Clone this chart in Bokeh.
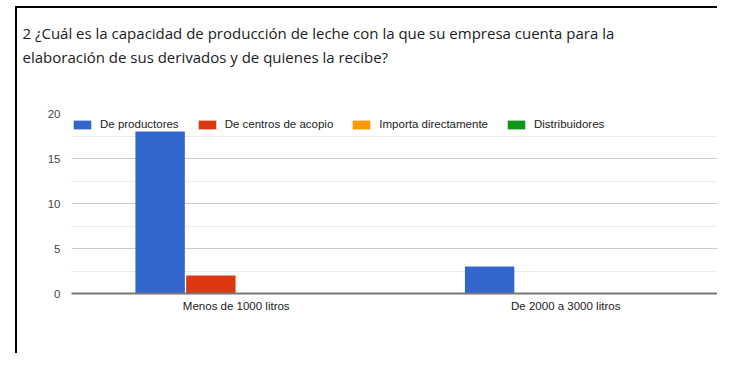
from bokeh.plotting import figure
from bokeh.models import (Range1d, FixedTicker, Legend, LegendItem, ColumnDataSource)
from bokeh.transform import dodge
from bokeh.embed import file_html
from bokeh.resources import INLINE

categories = ["Menos de 1000 litros", "De 2000 a 3000 litros"]
series = ["De productores", "De centros de acopio", "Importa directamente", "Distribuidores"]
de_productores = [18, 3]
de_centros_de_acopio = [2, 0]
importa_directamente = [0, 0]
distribuidores = [0, 0]
y_ticks = [0, 5, 10, 15, 20]
y_minor = [2.5, 7.5, 12.5, 17.5]
title_1 = "2 ¿Cuál es la capacidad de producción de leche con la que su empresa cuenta para la"
title_2 = "elaboración de sus derivados y de quienes la recibe?"

colors = ["#3366cc", "#dc3912", "#ff9900", "#109618"]
keys = ["s0", "s1", "s2", "s3"]
cat_pos = [i + 0.5 for i in range(len(categories))]
src = ColumnDataSource(dict(x=cat_pos, s0=de_productores, s1=de_centros_de_acopio,
                            s2=importa_directamente, s3=distribuidores))

p = figure(width=717, height=353, x_range=Range1d(0, 1.9606),
           y_range=Range1d(0, 20), output_backend="svg", toolbar_location=None,
           min_border_left=71, min_border_right=0, min_border_top=113, min_border_bottom=60)
p.outline_line_color = None
p.background_fill_color = "white"
p.border_fill_color = None
p.styles = {
    "background-color": "white",
    "background-image": "linear-gradient(#000000, #000000), linear-gradient(#000000, #000000)",
    "background-size": "2px 100%, 100% 2px",
    "background-position": "15px 6px, 15px 6px",
    "background-repeat": "no-repeat",
}

# two title lines followed by two blank lines, which keep the text high above the frame
p.title.text = title_1 + "\n" + title_2 + "\n \n "
p.title.align = "left"
p.title.offset = -49
p.title.standoff = 0
p.title.text_font = "Open Sans"
p.title.text_font_size = "15px"
p.title.text_font_style = "normal"
p.title.text_color = "#202124"
p.title.text_line_height = 1.17

offsets = [-0.231, -0.077, 0.077, 0.231]
items = []
for k, off, c, name in zip(keys, offsets, colors, series):
    r = p.vbar(x=dodge("x", off), top=k, width=0.15, source=src,
               fill_color=c, line_color=None)
    items.append(LegendItem(label=name, renderers=[r]))

legend = Legend(items=items, orientation="horizontal", location=(0, 163),
                background_fill_alpha=0, border_line_color=None, margin=0, padding=0,
                spacing=17, label_standoff=7, glyph_width=22, glyph_height=11,
                label_text_font="Liberation Sans", label_text_font_size="11.5px",
                label_text_color="#222222")
p.add_layout(legend, "center")

p.yaxis.ticker = FixedTicker(ticks=y_ticks, minor_ticks=y_minor)
p.ygrid.grid_line_color = "#cccccc"
p.ygrid.minor_grid_line_color = "#ebebeb"
p.xgrid.visible = False
p.yaxis.axis_line_color = None
p.yaxis.major_tick_line_color = None
p.yaxis.minor_tick_line_color = None
p.yaxis.major_label_standoff = 5
p.yaxis.major_label_text_font = "Liberation Sans"
p.yaxis.major_label_text_font_size = "11.5px"
p.yaxis.major_label_text_color = "#444444"

p.xaxis.ticker = FixedTicker(ticks=cat_pos)
p.xaxis.major_label_overrides = {pos: name for pos, name in zip(cat_pos, categories)}
p.xaxis.axis_line_color = "#777777"
p.xaxis.axis_line_width = 2
p.xaxis.major_tick_line_color = None
p.xaxis.minor_tick_line_color = None
p.xaxis.major_label_standoff = 0
p.xaxis.major_label_text_font = "Liberation Sans"
p.xaxis.major_label_text_font_size = "11.5px"
p.xaxis.major_label_text_color = "#222222"

open("out.html", "w").write(file_html(p, INLINE))
